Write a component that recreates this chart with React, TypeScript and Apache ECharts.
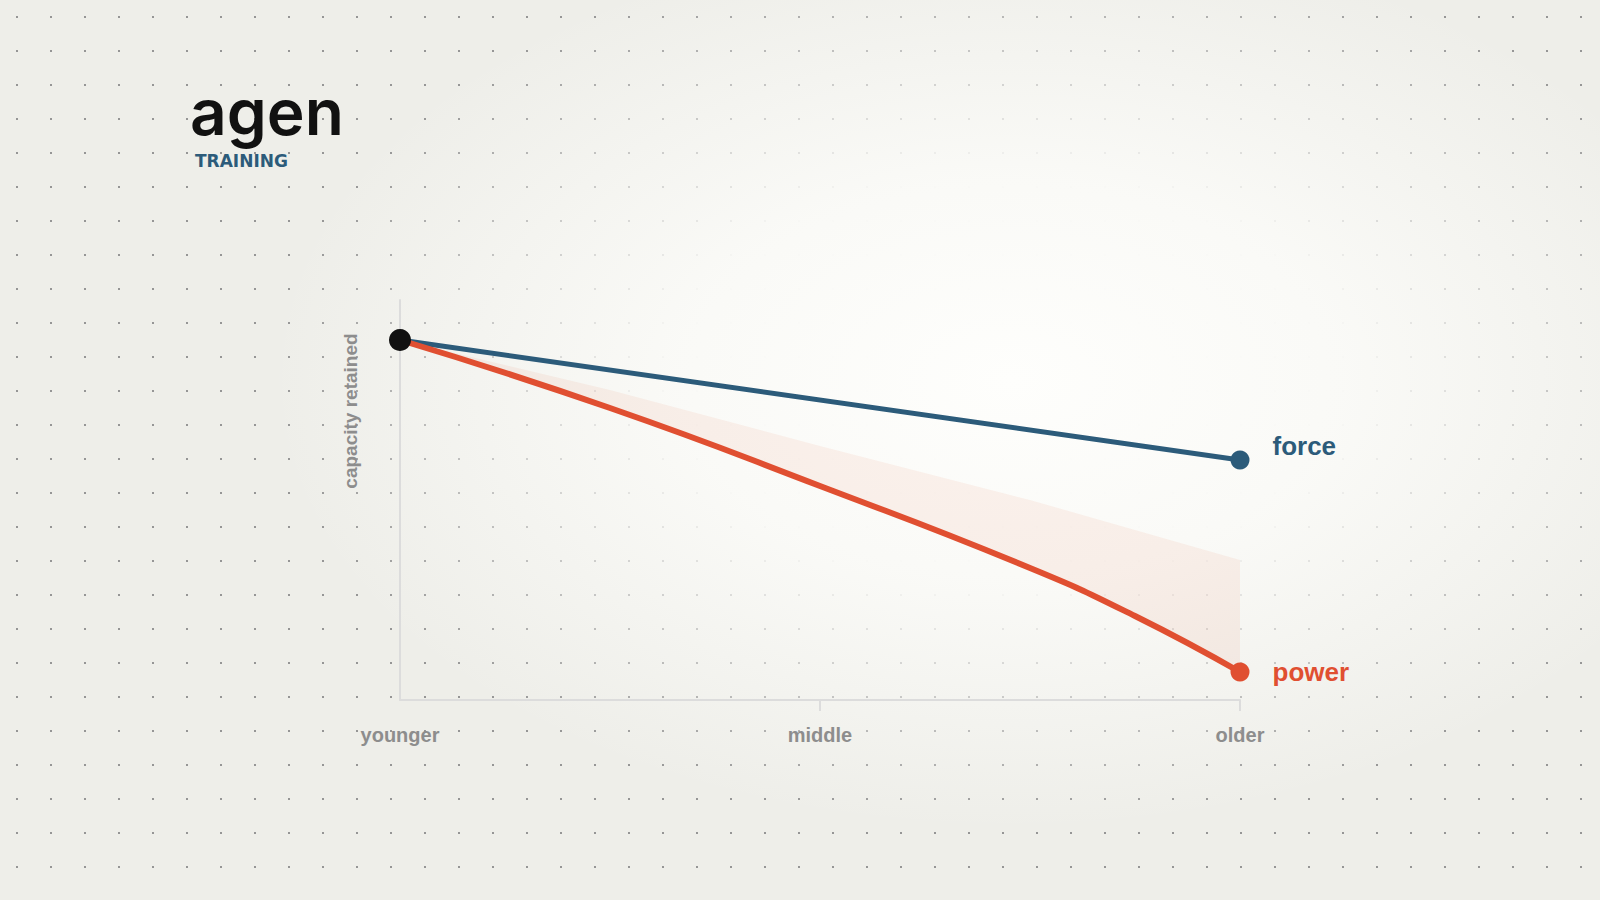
import React, { useEffect, useRef } from "react";
import * as echarts from "echarts";

// ---- data ----
const xCategories = ["younger", "middle", "older"];
const xCategoryPositions = [0, 50, 100];
const forceX = [0, 100];
const forceY = [90, 60];
const powerX = [0, 25, 50, 75, 87.5, 100];
const powerY = [90, 73, 53.5, 33, 21, 7];
const gapTopY = [90, 77.5, 63.5, 50, 42.5, 35];
const startPoint = [0, 90];
const seriesNames = ["force", "power"];
const yAxisTitle = "capacity retained";
const brandName = "agen";
const brandSub = "TRAINING";

const BLUE = "#2c5b7a";
const RED = "#e04f31";
const GRAY = "#8d8d8d";
const AXIS = "#dcdcdc";
const FONT = "'Liberation Sans', Arial, Helvetica, sans-serif";

export default function App() {
  const ref = useRef<HTMLDivElement>(null);

  useEffect(() => {
    if (!ref.current) return;
    const chart = echarts.init(ref.current, undefined, { renderer: "svg" });

    const endLabel = (text: string, color: string, dy: number) => ({
      show: true,
      formatter: text,
      position: "right",
      distance: 23,
      offset: [0, dy],
      color,
      fontSize: 26,
      fontWeight: "bold",
      fontFamily: FONT,
    });

    const forceData = forceX.map((x, i) => {
      const last = i === forceX.length - 1;
      return {
        value: [x, forceY[i]],
        symbolSize: last ? 19 : 0,
        label: last ? endLabel(seriesNames[0], BLUE, -14) : { show: false },
      };
    });

    const powerData = powerX.map((x, i) => {
      const last = i === powerX.length - 1;
      return {
        value: [x, powerY[i]],
        symbolSize: last ? 19 : 0,
        label: last ? endLabel(seriesNames[1], RED, 0) : { show: false },
      };
    });

    chart.setOption({
      animation: false,
      backgroundColor: "transparent",
      grid: { left: 400, top: 300, width: 840, height: 400, containLabel: false },
      xAxis: {
        type: "value",
        min: 0,
        max: 100,
        interval: 50,
        axisLine: { show: true, lineStyle: { color: AXIS, width: 2 } },
        axisTick: {
          show: true,
          length: 11,
          lineStyle: { color: AXIS, width: 2 },
          customValues: [50, 100],
        },
        splitLine: { show: false },
        axisLabel: {
          show: true,
          customValues: xCategoryPositions,
          margin: 25,
          color: GRAY,
          fontSize: 20,
          fontWeight: "bold",
          fontFamily: FONT,
          formatter: (v: number) => {
            const idx = xCategoryPositions.indexOf(v);
            return idx >= 0 ? xCategories[idx] : "";
          },
        },
      },
      yAxis: {
        type: "value",
        min: 0,
        max: 100,
        axisLine: { show: true, lineStyle: { color: AXIS, width: 2 } },
        axisTick: { show: false },
        axisLabel: { show: false },
        splitLine: { show: false },
      },
      graphic: [
        {
          type: "text",
          x: 350,
          y: 411,
          rotation: Math.PI / 2,
          style: {
            text: yAxisTitle,
            fill: GRAY,
            font: `bold 19px ${FONT}`,
            align: "center",
            verticalAlign: "middle",
          },
        },
        {
          type: "text",
          x: 190,
          y: 111,
          style: {
            text: brandName,
            fill: "#111111",
            font: `600 64px Inter, 'Noto Sans', sans-serif`,
            align: "left",
            verticalAlign: "middle",
          },
        },
        {
          type: "text",
          x: 195,
          y: 161,
          style: {
            text: brandSub,
            fill: BLUE,
            font: `bold 17px 'DejaVu Sans', sans-serif`,
            align: "left",
            verticalAlign: "middle",
          },
        },
      ],
      series: [
        {
          name: "gap",
          type: "custom",
          data: [0],
          z: 1,
          silent: true,
          renderItem: (_params: any, api: any) => {
            const top = powerX.map((x, i) => api.coord([x, gapTopY[i]]));
            const bottom = powerX
              .map((x, i) => api.coord([x, powerY[i]]))
              .reverse();
            return {
              type: "polygon",
              shape: { points: top.concat(bottom) },
              style: { fill: "rgba(224,79,49,0.07)" },
            };
          },
        },
        {
          name: seriesNames[1],
          type: "line",
          smooth: true,
          symbol: "circle",
          data: powerData,
          lineStyle: { color: RED, width: 6, cap: "round" },
          itemStyle: { color: RED },
          z: 4,
        },
        {
          name: seriesNames[0],
          type: "line",
          symbol: "circle",
          data: forceData,
          lineStyle: { color: BLUE, width: 5, cap: "round" },
          itemStyle: { color: BLUE },
          z: 3,
        },
        {
          name: "start",
          type: "scatter",
          data: [startPoint],
          symbolSize: 22,
          itemStyle: { color: "#111111", opacity: 1 },
          z: 5,
        },
      ],
    });

    return () => chart.dispose();
  }, []);

  const bg = [
    "radial-gradient(ellipse 740px 450px at 1010px 380px, rgba(254,254,252,1) 0%, rgba(250,250,247,0.98) 45%, rgba(244,244,240,0) 100%)",
    "radial-gradient(circle, rgba(140,140,140,0.9) 0.9px, rgba(140,140,140,0) 1.4px)",
    "linear-gradient(#eeeee9, #eeeee9)",
  ].join(",");

  return (
    <div
      style={{
        position: "fixed",
        left: 0,
        top: 0,
        width: 1600,
        height: 900,
        backgroundImage: bg,
        backgroundSize: "1600px 900px, 34px 34px, 1600px 900px",
        backgroundPosition: "0 0, 0 0, 0 0",
        backgroundRepeat: "no-repeat, repeat, no-repeat",
      }}
    >
      <div ref={ref} style={{ width: 1600, height: 900 }} />
    </div>
  );
}
